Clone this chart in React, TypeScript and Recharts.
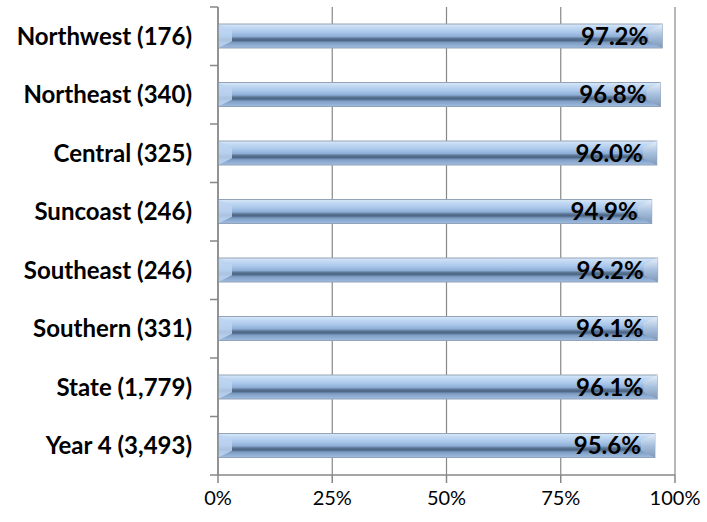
import React from "react";
import {
  BarChart,
  Bar,
  XAxis,
  YAxis,
  CartesianGrid,
  LabelList,
} from "recharts";

const regions = [
  "Northwest (176)",
  "Northeast (340)",
  "Central (325)",
  "Suncoast (246)",
  "Southeast (246)",
  "Southern (331)",
  "State (1,779)",
  "Year 4 (3,493)",
];
const rates = [97.2, 96.8, 96.0, 94.9, 96.2, 96.1, 96.1, 95.6];
const xTicks = [0, 25, 50, 75, 100];

const data = regions.map((name, i) => ({ name, rate: rates[i] }));

const FONT = "Lato, 'Open Sans', sans-serif";
const AXIS = "#878787";

function BevelBar(props: any) {
  const { x, y, width, height } = props;
  if (!width || width <= 0) return null;
  const b = Math.min(14, width / 4);
  const v = height * 0.28;
  return (
    <g>
      <rect x={x} y={y} width={width} height={height} fill="url(#barBody)" stroke="#93a3b8" strokeWidth={1} />
      <polygon
        points={`${x},${y} ${x + b},${y + v} ${x + b},${y + height - v} ${x},${y + height}`}
        fill="#bdd5f1"
        opacity={0.85}
      />
      <polygon
        points={`${x + width},${y} ${x + width - b},${y + v} ${x + width - b},${y + height - v} ${x + width},${y + height}`}
        fill="url(#barRight)"
      />
    </g>
  );
}

function CategoryTick(props: any) {
  const { x, y, payload, index } = props;
  const off = payload && payload.offset ? payload.offset : 29;
  return (
    <g>
      <line x1={x + 18} x2={x + 26} y1={y + off} y2={y + off} stroke={AXIS} strokeWidth={1.5} />
      {index === 0 && (
        <line x1={x + 18} x2={x + 26} y1={y - off} y2={y - off} stroke={AXIS} strokeWidth={1.5} />
      )}
      <text x={x} y={y} dy="0.36em" textAnchor="end" fontFamily={FONT} fontWeight={700} fontSize={24} fill="#000">
        {payload.value}
      </text>
    </g>
  );
}

export default function App() {
  return (
    <div style={{ position: "absolute", left: 0, top: 0, background: "#fff" }}>
      <BarChart
        width={707}
        height={522}
        data={data}
        layout="vertical"
        margin={{ top: 7, right: 32, bottom: 7, left: 0 }}
      >
        <defs>
          <linearGradient id="barBody" x1="0" y1="0" x2="0" y2="1">
            <stop offset="0" stopColor="#dbe8f8" />
            <stop offset="0.12" stopColor="#c4dbf4" />
            <stop offset="0.35" stopColor="#a9c6ea" />
            <stop offset="0.52" stopColor="#8eaed6" />
            <stop offset="0.6" stopColor="#5d7797" />
            <stop offset="0.68" stopColor="#4a6382" />
            <stop offset="0.78" stopColor="#7f9ec4" />
            <stop offset="1" stopColor="#a0bde2" />
          </linearGradient>
          <linearGradient id="barRight" x1="0" y1="0" x2="0" y2="1">
            <stop offset="0" stopColor="#e6effa" />
            <stop offset="0.5" stopColor="#a7c0de" />
            <stop offset="1" stopColor="#7f98b8" />
          </linearGradient>
        </defs>
        <CartesianGrid horizontal={false} stroke={AXIS} strokeWidth={1.2} />
        <XAxis
          type="number"
          domain={[0, 100]}
          ticks={xTicks}
          tickFormatter={(v) => `${v}%`}
          axisLine={{ stroke: AXIS, strokeWidth: 1.5 }}
          tickLine={{ stroke: AXIS, strokeWidth: 1.5 }}
          tickSize={8}
          tickMargin={8}
          height={40}
          tick={{ fontFamily: FONT, fontSize: 20, fill: "#000" }}
        />
        <YAxis
          type="category"
          dataKey="name"
          width={218}
          axisLine={{ stroke: AXIS, strokeWidth: 1.5 }}
          tickLine={{ stroke: "transparent" }}
          tickSize={8}
          tickMargin={18}
          interval={0}
          tick={<CategoryTick />}
        />
        <Bar dataKey="rate" barSize={24} shape={<BevelBar />} isAnimationActive={false}>
          <LabelList
            dataKey="rate"
            position="insideRight"
            offset={14}
            formatter={(v: any) => `${Number(v).toFixed(1)}%`}
            style={{ fontFamily: FONT, fontWeight: 700, fontSize: 24, fill: "#000" }}
          />
        </Bar>
      </BarChart>
    </div>
  );
}
